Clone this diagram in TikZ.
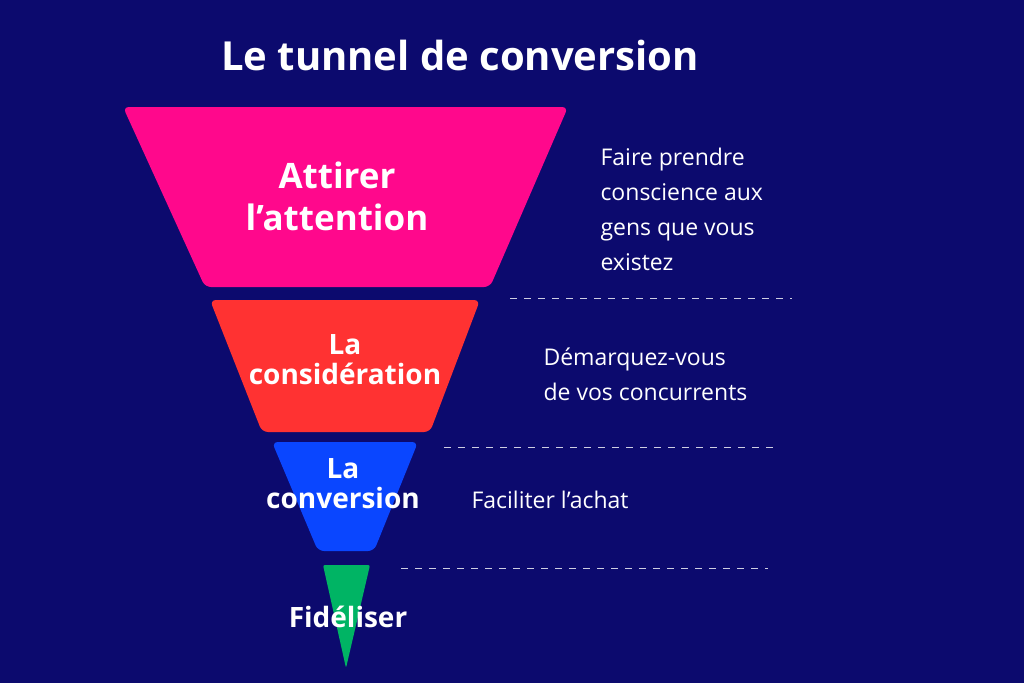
\documentclass[tikz,border=0pt]{standalone}
\usepackage{fontspec}
\setmainfont{Open Sans}
\usetikzlibrary{positioning}
\definecolor{navy}{RGB}{12,10,110}
\definecolor{pinkish}{RGB}{255,8,140}
\definecolor{redish}{RGB}{255,50,50}
\definecolor{blueish}{RGB}{10,70,255}
\definecolor{greenish}{RGB}{0,180,100}
\tikzset{
  stage/.style={text=white,font=\fontsize{28}{30}\selectfont\bfseries,align=center},
  note/.style={text=white,font=\fontsize{23}{35}\selectfont,align=left,anchor=west},
  sep/.style={white!80!navy,dashed,dash pattern=on 7pt off 7pt}
}
\begin{document}
\begin{tikzpicture}[x=1pt,y=-1pt]
\fill[navy] (0,0) rectangle (1024,683);
\useasboundingbox (0,0) rectangle (1024,683);
\node[text=white,font=\fontsize{40}{44}\selectfont\bfseries] (title) at (460,55) {Le tunnel de conversion};
% funnel
\fill[pinkish,rounded corners=6pt] (123,107) -- (568,107) -- (490,287) -- (205,287) -- cycle;
\fill[redish,rounded corners=6pt] (210,300) -- (480,300) -- (430,432) -- (262,432) -- cycle;
\fill[blueish,rounded corners=6pt] (272,442) -- (418,442) -- (374,551) -- (318,551) -- cycle;
\fill[greenish,rounded corners=2pt] (323,565) -- (370,565) -- (346,668) -- cycle;
\node[stage,font=\fontsize{35}{42}\selectfont\bfseries] (attention) at (337,196) {Attirer\\l’attention};
\node[stage] (consideration) at (345,360) {La\\considération};
\node[stage] (conversion) at (343,484) {La\\conversion};
\node[stage] (fideliser) at (348,617) {Fidéliser};
% notes
\node[note] (note1) at (597,209) {Faire prendre\\conscience aux\\gens que vous\\existez};
\node[note] (note2) at (540,374) {Démarquez-vous\\de vos concurrents};
\node[note] (note3) at (468,500) {Faciliter l’achat};
\draw[sep] (510,298) -- (792,298);
\draw[sep] (444,447) -- (775,447);
\draw[sep] (401,568) -- (768,568);
\end{tikzpicture}
\end{document}
